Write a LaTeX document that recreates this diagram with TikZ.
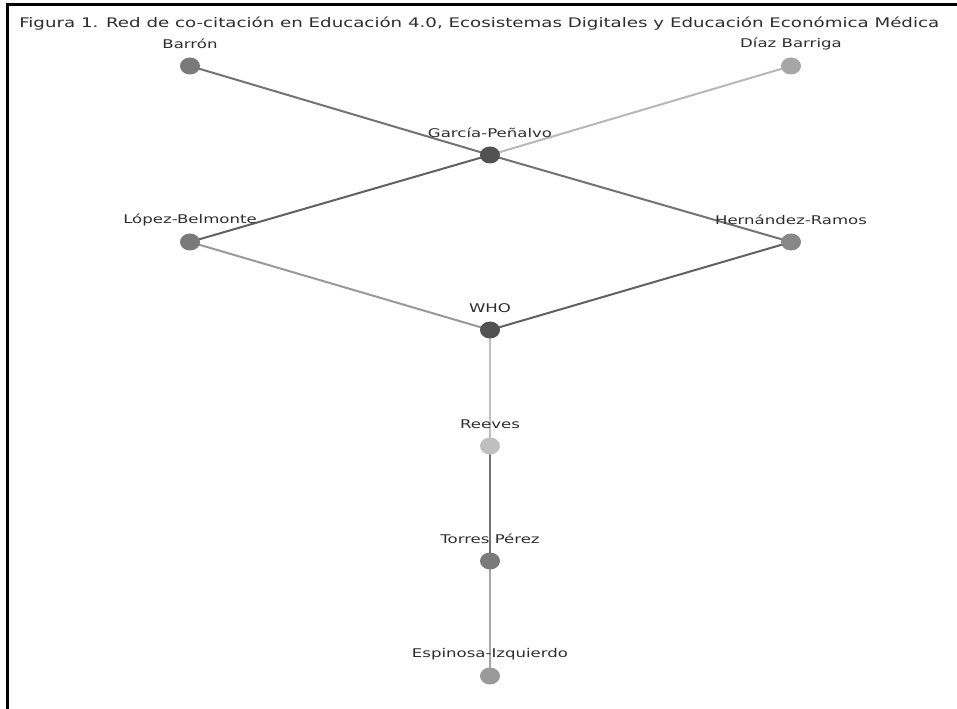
\documentclass[tikz,border=0pt]{standalone}
\usepackage{fontspec}
\usetikzlibrary{shapes.geometric}
\setmainfont{DejaVu Sans}
\newfontfamily\lblfont[FakeStretch=1.38]{DejaVu Sans}
\newfontfamily\ttlfont[FakeStretch=1.38]{DejaVu Sans}
\begin{document}
\begin{tikzpicture}[x=0.75pt,y=-0.75pt,
  vtx/.style={ellipse,inner sep=0pt,minimum width=15pt,minimum height=12.75pt},
  lbl/.style={text=black!82,font=\lblfont\fontsize{9}{10}\selectfont,inner sep=0pt},
  edge/.style={line width=1.5pt}]
\useasboundingbox (0,0) rectangle (957,709);
\fill[white] (0,0) rectangle (957,709);
\draw[line width=1.6pt] (7.5,709) -- (7.5,4.5) -- (957,4.5);
\node[anchor=west,text=black!82,font=\ttlfont\fontsize{9.9}{11}\selectfont,inner sep=0pt] (title) at (19,23.5) {Figura 1. Red de co-citación en Educación 4.0, Ecosistemas Digitales y Educación Económica Médica};
% nodes
\coordinate (BA) at (190,66);
\coordinate (DB) at (791,66);
\coordinate (GP) at (490,155);
\coordinate (LB) at (190,242);
\coordinate (HR) at (791,242);
\coordinate (WHO) at (490,330);
\coordinate (RE) at (490,446);
\coordinate (TP) at (490,561);
\coordinate (EI) at (490,676);
% edges
\draw[edge,draw=black!55] (BA) -- (GP);
\draw[edge,draw=black!55] (GP) -- (HR);
\draw[edge,draw=black!28] (DB) -- (GP);
\draw[edge,draw=black!62] (GP) -- (LB);
\draw[edge,draw=black!40] (LB) -- (WHO);
\draw[edge,draw=black!62] (WHO) -- (HR);
\draw[edge,draw=black!25] (WHO) -- (RE);
\draw[edge,draw=black!55] (RE) -- (TP);
\draw[edge,draw=black!35] (TP) -- (EI);
% node discs
\node[vtx,fill=black!52] (nBA) at (BA) {};
\node[vtx,fill=black!35] (nDB) at (DB) {};
\node[vtx,fill=black!68] (nGP) at (GP) {};
\node[vtx,fill=black!52] (nLB) at (LB) {};
\node[vtx,fill=black!47] (nHR) at (HR) {};
\node[vtx,fill=black!68] (nWHO) at (WHO) {};
\node[vtx,fill=black!25] (nRE) at (RE) {};
\node[vtx,fill=black!52] (nTP) at (TP) {};
\node[vtx,fill=black!40] (nEI) at (EI) {};
% labels
\node[lbl] (tBA) at (190,44) {Barrón};
\node[lbl] (tDB) at (791,44) {Díaz Barriga};
\node[lbl] (tGP) at (490,133) {García-Peñalvo};
\node[lbl] (tLB) at (190,220) {López-Belmonte};
\node[lbl] (tHR) at (791,220) {Hernández-Ramos};
\node[lbl] (tWHO) at (490,308) {WHO};
\node[lbl] (tRE) at (490,424) {Reeves};
\node[lbl] (tTP) at (490,539) {Torres Pérez};
\node[lbl] (tEI) at (490,654) {Espinosa-Izquierdo};
\end{tikzpicture}
\end{document}
